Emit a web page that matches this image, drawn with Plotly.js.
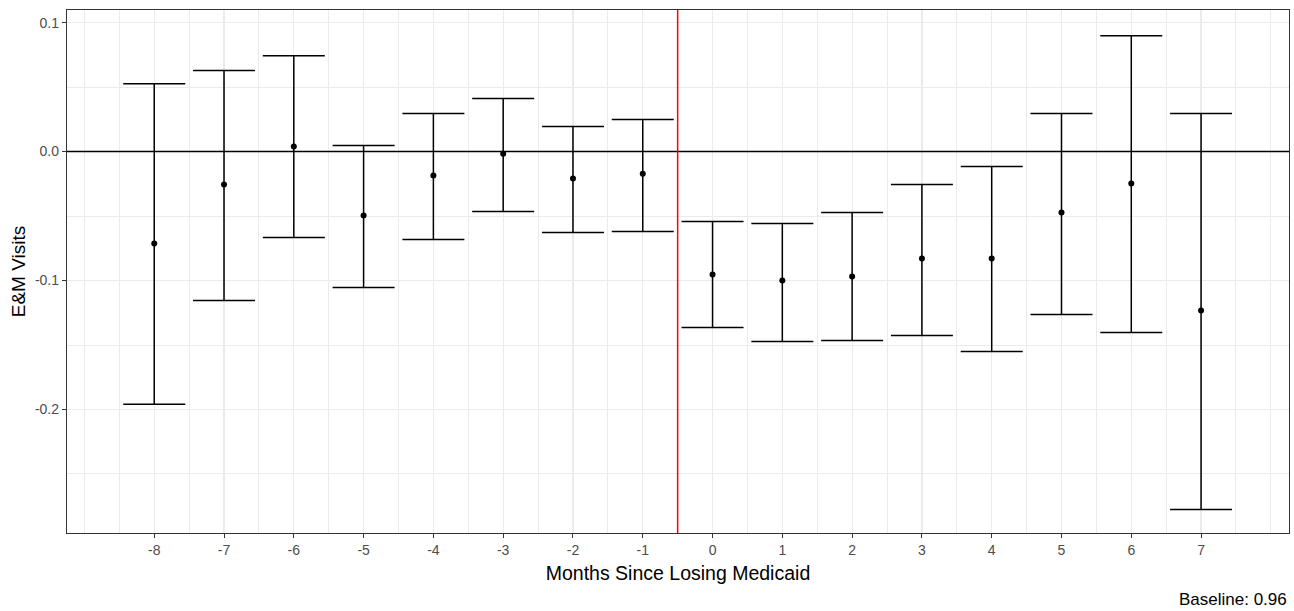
<!DOCTYPE html>
<html>
<head>
<meta charset="utf-8">
<script src="https://cdn.plot.ly/plotly-3.0.1.min.js"></script>
<style>html,body{margin:0;padding:0;background:#fff;}#chart{width:1294px;height:611px;}</style>
</head>
<body>
<div id="chart"></div>
<script>
const months = [-8,-7,-6,-5,-4,-3,-2,-1,0,1,2,3,4,5,6,7];
const estimate = [-0.0713,-0.0256,0.0039,-0.0496,-0.0186,-0.0016,-0.0209,-0.0171,-0.0953,-0.1000,-0.0969,-0.0829,-0.0829,-0.0473,-0.0248,-0.1233];
const upper = [0.0527,0.0628,0.0744,0.0047,0.0295,0.0411,0.0194,0.0248,-0.0543,-0.0558,-0.0473,-0.0256,-0.0116,0.0295,0.0899,0.0295];
const lower = [-0.1960,-0.1155,-0.0667,-0.1054,-0.0682,-0.0465,-0.0628,-0.0620,-0.1364,-0.1473,-0.1465,-0.1426,-0.1550,-0.1264,-0.1403,-0.2775];
const yTicks = [-0.2,-0.1,0.0,0.1];
const yTickText = ["-0.2","-0.1","0.0","0.1"];
const cutoff = -0.5;

const trace = {
  x: months, y: estimate, type: 'scatter', mode: 'markers',
  marker: {color: '#000', size: 6},
  error_y: {
    type: 'data', symmetric: false,
    array: upper.map((u,i)=>u-estimate[i]),
    arrayminus: lower.map((l,i)=>estimate[i]-l),
    color: '#000', thickness: 1.5, width: 31
  },
  hoverinfo: 'x+y', showlegend: false
};

const layout = {
  width: 1294, height: 611,
  margin: {l: 67, r: 5, t: 10, b: 78},
  paper_bgcolor: '#fff', plot_bgcolor: '#fff',
  font: {family: 'Liberation Sans, Arial, sans-serif'},
  xaxis: {
    range: [-9.25, 8.26], tickvals: months, ticktext: months.map(String),
    showgrid: true, gridcolor: '#ebebeb', gridwidth: 1.2,
    minor: {tick0: 0, dtick: 0.5, showgrid: true, gridcolor: '#ebebeb', gridwidth: 1, ticks: ''},
    zeroline: false, showline: true, mirror: true, linecolor: '#333', linewidth: 1.2,
    ticks: 'outside', ticklen: 4, tickcolor: '#333', tickwidth: 1,
    tickfont: {size: 14, color: '#4d4d4d'},
    title: {text: 'Months Since Losing Medicaid', font: {size: 19.5, color: '#000'}, standoff: 9}
  },
  yaxis: {
    range: [-0.2958, 0.1098], tickvals: yTicks, ticktext: yTickText,
    showgrid: true, gridcolor: '#ebebeb', gridwidth: 1.2,
    minor: {tick0: 0.05, dtick: 0.1, showgrid: true, gridcolor: '#ebebeb', gridwidth: 1, ticks: ''},
    zeroline: false, showline: true, mirror: true, linecolor: '#333', linewidth: 1.2,
    ticks: 'outside', ticklen: 4, tickcolor: '#333', tickwidth: 1,
    tickfont: {size: 14, color: '#4d4d4d'},
    title: {text: 'E&M Visits', font: {size: 19, color: '#000'}, standoff: 4}
  },
  shapes: [
    {type: 'line', xref: 'paper', x0: 0, x1: 1, yref: 'y', y0: 0, y1: 0, line: {color: '#000', width: 1.5}, layer: 'above'},
    {type: 'line', xref: 'x', x0: cutoff, x1: cutoff, yref: 'paper', y0: 0, y1: 1, line: {color: '#ff0000', width: 1.5}, layer: 'above'}
  ],
  annotations: [
    {text: 'Baseline: 0.96', xref: 'paper', yref: 'paper', x: 1, y: 0, xanchor: 'right', yanchor: 'top', yshift: -55, showarrow: false, font: {size: 17, color: '#000'}}
  ]
};

Plotly.newPlot('chart', [trace], layout, {displayModeBar: false, staticPlot: true});
</script>
</body>
</html>
